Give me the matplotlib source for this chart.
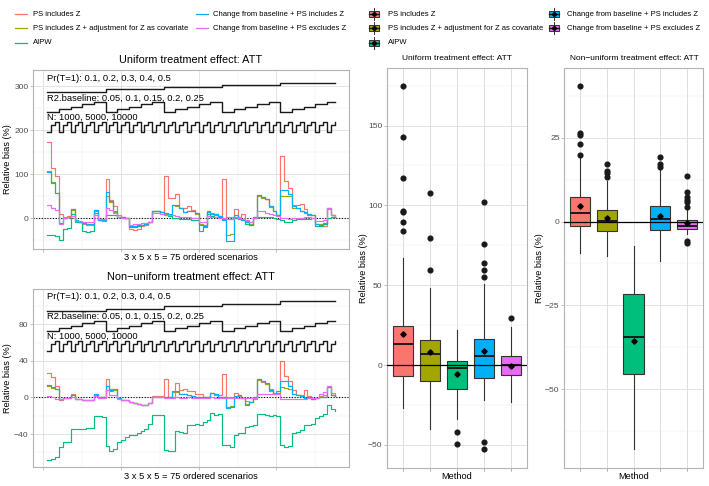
import numpy as np
import matplotlib
matplotlib.use("Agg")
import matplotlib.pyplot as plt
from matplotlib.patches import Rectangle
from matplotlib.lines import Line2D

plt.rcParams['font.family'] = ['Liberation Sans', 'DejaVu Sans']

W, H, DPI = 709, 486, 100

# ---------------- data ----------------
methods = ["PS includes Z", "PS includes Z + adjustment for Z as covariate", "AIPW",
           "Change from baseline + PS includes Z", "Change from baseline + PS excludes Z"]
colors = ["#F8766D", "#A3A500", "#00BF7D", "#00B0F6", "#E76BF3"]

pr_levels = [0.1, 0.2, 0.3, 0.4, 0.5]
r2_levels = [0.05, 0.1, 0.15, 0.2, 0.25]
n_levels = [1000, 5000, 10000]
scenario = np.arange(1, 76)

# Uniform treatment effect (relative bias %, 75 ordered scenarios)
uni_ps_z = [174, 113, 95, 10, 2, 5, 20, -4, -9, -14, -15, -15, 19, -4, -6,
            89, 42, 27, 8, 2, 0, -24, -27, -24, -18, -16, -10, 17, 17, 14,
            97, 45, 45, 55, 22, 24, 27, 19, 11, -14, -15, 17, 11, 9, 4,
            89, 3, 2, 21, 3, 9, -6, -9, 0, 52, 48, 44, 27, 17, 8,
            141, 84, 69, 30, 29, 32, 21, 9, 8, -14, -15, -19, 21, 8, 2]
uni_ps_z_adj = [107, 82, 58, -12, 0, 2, 18, -4, -9, -12, -14, -14, 17, -4, -4,
                50, 36, 14, 2, 2, 0, -17, -17, -15, -15, -13, -9, 17, 17, 14,
                10, 8, 30, 28, 22, 14, 17, 15, 10, -14, -15, 17, 9, 8, 4,
                -2, -38, -36, 6, 0, -3, -8, -13, 2, 50, 46, 43, 25, 16, 6,
                50, 51, 51, 24, 22, 17, 12, 8, 6, -13, -14, -11, 22, 6, 2]
uni_aipw = [-38, -38, -42, -50, -25, -22, 10, -8, -10, -30, -32, -30, 12, -3, -5,
            8, 6, 6, 2, 0, 0, -21, -20, -18, -16, -14, -10, 17, 17, 14,
            8, 5, 0, 0, -2, -3, -3, -5, -5, -29, -20, 10, 5, 3, 2,
            0, -3, -3, 0, -3, -5, -14, -15, 0, 2, 3, 3, 2, 0, -3,
            -5, -10, -8, -5, -3, -3, -2, -1, 0, -17, -17, -14, 0, 2, 2]
uni_cfb_z = [105, 80, 57, -12, 0, 2, 21, -4, -9, -12, -14, -14, 19, -4, -4,
             60, 38, 17, 2, 2, 0, -19, -17, -15, -15, -14, -9, 17, 17, 14,
             11, 10, 30, 30, 24, 14, 17, 17, 11, -15, -17, 14, 9, 9, 4,
             -4, -52, -52, 8, 0, -4, -9, -15, 2, 52, 48, 44, 27, 17, 8,
             65, 63, 55, 27, 23, 17, 14, 9, 8, -14, -15, -12, 24, 8, 2]
uni_cfb_noz = [29, 24, 19, -14, 0, 2, 4, -6, -6, -9, -10, -10, 8, -3, -3,
               23, 19, 11, 2, 0, 0, -15, -14, -13, -12, -11, -8, 11, 11, 9,
               8, 8, 6, 5, 3, 3, 2, 0, 0, -10, -10, 4, 3, 2, 0,
               0, -2, -2, 2, 0, -2, -4, -8, 0, 17, 15, 12, 10, 8, 5,
               0, 0, -2, 0, 0, 0, 2, 2, 0, -6, -6, -5, 24, 8, 5]

# Non-uniform treatment effect
non_ps_z = [27, 22, 13, -3, -1, -1, 4, -2, -2, -3, -3, -3, 4, 0, 0,
            20, 9.5, 9, -1, -3, -3, -5, -6, -7, -8, -8, -6, 1.5, 1.5, 1.5,
            20, 0, 0, 16, 8, 9, 6.5, 6.5, 4, 4, 0, 0, 5, 3, 3,
            26, 0, 1, 5, 2, -1, -4, -5, -2, 20, 17, 15, 9.5, 5, 5,
            40, 23, 18.5, 7.6, 3, 3, 7.6, 1.5, -1.5, -1, 2, 3, 12, 3, 2]
non_ps_z_adj = [13, 10, 9, -2, -1, -1, 3, -2, -2, -3, -3, -3, 3, 0, 0,
                12, 7, 8, -1, -3, -3, -5, -6, -7, -8, -8, -6, 1, 1, 1,
                0, 1, 6, 6, 4, 4, 3, 2, 1, 1, 0, 0, 5, 4, 1,
                0, -10, -9.5, 2, 3, -1, -7, -5, 0, 19, 18, 15, 7, 4, 5,
                11, 10, 9.5, 4, 3, 2, -1, 0, -1.5, -1, 0, 1, 11, 3, 2]
non_aipw = [-68, -67, -65, -54, -49, -49, -35, -35, -34, -34, -33, -33, -20, -20, -21,
            -53, -58, -56, -49, -47, -43, -41.5, -41, -38.5, -37, -35, -29, -19, -19, -19,
            -57, -59, -59, -37, -38, -38.5, -30.5, -30, -29, -30, -27, -25, -17, -19, -18,
            -52, -52, -54, -41, -38.5, -38.5, -32, -31, -30.5, -18, -18, -19, -20, -19, -20,
            -52, -54, -53, -38.5, -38, -36, -30, -30, -29, -23, -20, -18, -8, -13, -15]
non_cfb_z = [14, 11, 9.5, -2, -1, -1, 3, -2, -2, -3, -3, -3, 4, 0, 0,
             13, 7.6, 9.5, -1, -3, -3, -5, -6, -7, -8, -8, -6, 1, 1, 1,
             0, 1, 6.5, 6.5, 4, 4, 3, 2, 1, 1, 0, 0, 5, 4, 1,
             0, -11.6, -10.5, 2, 3, -1, -8, -5, 0, 20, 18.5, 16, 7.6, 4, 6.5,
             18.5, 17.5, 12, 4, 3, 2, -1, 0, -1.5, -1, 0, 1, 11, 3, 2]
non_cfb_noz = [1.5, 0, -1.5, -1.5, -1, -1, 0, -2, -2, -3, -3, -3, 2, -1, -1,
               7.6, 3, 3, -2, -3, -3, -5, -6, -7, -8, -8, -6, 0.5, 0.5, 0.5,
               -1, -1, -1, 0, -1, -1, 0, -1, -1, -1, -1, -1, 0, -1, -1,
               -1, -1, -1, -1, -1, -1, -1, -1, -1, 4, 4, 4, 4, 4, 4,
               -1.5, -1.5, -1.5, -1.5, -1.5, -1.5, -2, -1, -1, -1, 4, 6, 13, 5, 4]

uni_series = [uni_ps_z, uni_ps_z_adj, uni_aipw, uni_cfb_z, uni_cfb_noz]
non_series = [non_ps_z, non_ps_z_adj, non_aipw, non_cfb_z, non_cfb_noz]

# Box plot summaries (q1, median, q3, lower whisker, upper whisker, mean, outliers)
uni_q1 = [-6.9, -10.2, -15.2, -7.9, -6.4]
uni_med = [13.5, 6.7, -2.1, 5.6, 0.0]
uni_q3 = [24.5, 15.8, 2.5, 16.4, 6.0]
uni_lo = [-26.6, -40.0, -33.9, -21.8, -22.9]
uni_hi = [67.0, 48.2, 22.2, 50.9, 24.1]
uni_mean = [19.3, 8.3, -5.6, 8.7, -0.6]
uni_out = [[174.5, 142.5, 117.2, 96.5, 95.6, 89.8, 83.8],
           [107.5, 79.7, 59.3],
           [-42.0, -49.3],
           [102.3, 75.9, 64.0, 59.3, 55.1, -48.4, -52.6],
           [29.3]]

non_q1 = [-1.3, -2.9, -45.4, -2.4, -2.3]
non_med = [2.6, 0.3, -34.3, 0.8, -1.2]
non_q3 = [7.2, 3.4, -21.6, 4.6, 0.4]
non_lo = [-9.4, -10.2, -67.9, -11.9, -3.8]
non_hi = [19.2, 12.0, -7.2, 15.7, 3.4]
non_mean = [4.6, 1.0, -35.5, 1.8, -0.4]
non_out = [[19.9, 23.0, 25.8, 26.4, 40.4],
           [13.4, 14.6, 15.2, 17.2],
           [],
           [16.2, 17.2, 19.2],
           [4.3, 5.8, 6.5, 7.3, 8.8, 13.5, -5.9, -6.4]]

# ---------------- style ----------------
BORDER = "#B3B3B3"
GRID = "#DEDEDE"
GRIDMIN = "#EDEDED"
TICKC = "#4D4D4D"
PT = 72.0 / DPI  # points per pixel

fig = plt.figure(figsize=(W / DPI, H / DPI), dpi=DPI)


def ax_px(l, t, r, b):
    return fig.add_axes([l / W, 1 - b / H, (r - l) / W, (b - t) / H])


def style(ax, xmaj, xmin, ymaj, ymin):
    ax.set_xticks(xmaj)
    ax.set_xticks(xmin, minor=True)
    ax.set_yticks(ymaj)
    ax.set_yticks(ymin, minor=True)
    ax.set_xticklabels([])
    ax.grid(True, which='major', color=GRID, lw=0.6, zorder=0)
    ax.grid(True, which='minor', color=GRIDMIN, lw=0.35, zorder=0)
    ax.set_axisbelow(True)
    for s in ax.spines.values():
        s.set_color(BORDER)
        s.set_linewidth(0.8)
    ax.tick_params(which='major', length=2.6 * PT, width=0.6, color=BORDER,
                   labelsize=6.1, labelcolor=TICKC, pad=1.3)
    ax.tick_params(which='minor', length=0)


def scaled(vals, levels, base, height, log=False):
    v = np.asarray(vals, dtype=float)
    lo, hi = min(levels), max(levels)
    if log:
        return base + height * (np.log(v) - np.log(lo)) / (np.log(hi) - np.log(lo))
    return base + height * (v - lo) / (hi - lo)


pr_col = np.repeat(pr_levels, 15)
r2_col = np.tile(np.repeat(r2_levels, 3), 5)
n_col = np.tile(n_levels, 25)

pr_txt = "Pr(T=1): " + ", ".join(str(v) for v in pr_levels)
r2_txt = "R2.baseline: " + ", ".join(str(v) for v in r2_levels)
n_txt = "N: " + ", ".join(str(v) for v in n_levels)


def line_panel(ax, series, ylim, ymaj, ymin, ind):
    ax.set_xlim(-2.7, 78.7)
    ax.set_ylim(*ylim)
    style(ax, [0, 20, 40, 60], [10, 30, 50, 70], ymaj, ymin)
    (pb, ph, pt_), (rb, rh, rt), (nb, nh, nt) = ind
    kw = dict(drawstyle='steps-post', color='#1a1a1a', lw=1.0, zorder=3)
    ax.plot(scenario, scaled(pr_col, pr_levels, pb, ph), **kw)
    ax.plot(scenario, scaled(r2_col, r2_levels, rb, rh), **kw)
    ax.plot(scenario, scaled(n_col, n_levels, nb, nh, log=True), **kw)
    tkw = dict(ha='left', va='center', fontsize=6.75, color='black', zorder=4)
    ax.text(1, pt_, pr_txt, **tkw)
    ax.text(1, rt, r2_txt, **tkw)
    ax.text(1, nt, n_txt, **tkw)
    ax.axhline(0, color='black', lw=0.8, ls=(0, (1, 1.5)), zorder=2)
    for vals, c in zip(series, colors):
        ax.plot(scenario, vals, drawstyle='steps-post', color=c, lw=0.85, zorder=3)


def box_panel(ax, q1, med, q3, lo, hi, mean, out, ylim, ymaj, ymin):
    ax.set_xlim(0.4, 5.6)
    ax.set_ylim(*ylim)
    style(ax, [1, 2, 3, 4, 5], [], ymaj, ymin)
    stats = []
    for i in range(5):
        stats.append(dict(q1=q1[i], med=med[i], q3=q3[i], whislo=lo[i], whishi=hi[i],
                          mean=mean[i], fliers=out[i]))
    res = ax.bxp(stats, positions=[1, 2, 3, 4, 5], widths=0.75, patch_artist=True,
                 showcaps=False, showmeans=False,
                 boxprops=dict(edgecolor='#333333', linewidth=0.8),
                 whiskerprops=dict(color='#333333', linewidth=0.8),
                 medianprops=dict(color='#1a1a1a', linewidth=1.4),
                 flierprops=dict(marker='o', markersize=3.4, markerfacecolor='#1a1a1a',
                                 markeredgecolor='#1a1a1a', linestyle='none'),
                 zorder=2)
    for b, c in zip(res['boxes'], colors):
        b.set_facecolor(c)
    ax.axhline(0, color='black', lw=0.9, zorder=4)
    ax.plot([1, 2, 3, 4, 5], mean, ls='none', marker='D', markersize=2.7,
            color='black', zorder=5)
    ax.set_xticklabels([])


# ---------- left line panels ----------
axA = ax_px(33, 70, 349, 249)
line_panel(axA, uni_series, (-70.5, 337.5), [0, 100, 200, 300], [-50, 50, 150, 250],
           [(288, 21, 319), (242, 23, 274), (197, 21, 229)])
axB = ax_px(33, 289, 349, 467)
line_panel(axB, non_series, (-76, 118.5), [-40, 0, 40, 80], [-60, -20, 20, 60, 100],
           [(94.5, 10.5, 110.5), (73, 11, 89), (51, 11, 67)])

# ---------- box panels ----------
axC = ax_px(387, 68, 527, 468)
box_panel(axC, uni_q1, uni_med, uni_q3, uni_lo, uni_hi, uni_mean, uni_out,
          (-64.4, 186.0), [-50, 0, 50, 100, 150], [-25, 25, 75, 125, 175])
axD = ax_px(564, 68, 703, 468)
box_panel(axD, non_q1, non_med, non_q3, non_lo, non_hi, non_mean, non_out,
          (-73.5, 45.8), [-50, -25, 0, 25], [-62.5, -37.5, -12.5, 12.5, 37.5])

# ---------- overlay for titles / labels / legends ----------
ov = fig.add_axes([0, 0, 1, 1])
ov.set_xlim(0, W)
ov.set_ylim(H, 0)
ov.axis('off')
ov.patch.set_alpha(0)

ov.text(191, 60, "Uniform treatment effect: ATT", ha='center', va='center', fontsize=7.85)
ov.text(191, 277, "Non\u2212uniform treatment effect: ATT", ha='center', va='center', fontsize=7.85)
ov.text(191, 257, "3 x 5 x 5 = 75 ordered scenarios", ha='center', va='center', fontsize=6.75)
ov.text(191, 476, "3 x 5 x 5 = 75 ordered scenarios", ha='center', va='center', fontsize=6.75)
ov.text(8, 159.5, "Relative bias (%)", ha='center', va='center', rotation=90, fontsize=6.6)
ov.text(8, 378, "Relative bias (%)", ha='center', va='center', rotation=90, fontsize=6.6)

ov.text(457, 58, "Uniform treatment effect: ATT", ha='center', va='center', fontsize=6.05)
ov.text(634, 58, "Non\u2212uniform treatment effect: ATT", ha='center', va='center', fontsize=6.05)
ov.text(457, 476, "Method", ha='center', va='center', fontsize=6.7)
ov.text(634, 476, "Method", ha='center', va='center', fontsize=6.7)
ov.text(364, 268, "Relative bias (%)", ha='center', va='center', rotation=90, fontsize=6.6)
ov.text(540, 268, "Relative bias (%)", ha='center', va='center', rotation=90, fontsize=6.6)

rows = [14, 28.5, 43]
slots = [(0, 0), (0, 1), (0, 2), (1, 0), (1, 1)]
# line legend
lx = [(15, 27, 33), (196, 208, 213)]
for (col, row), name, c in zip(slots, methods, colors):
    x0, x1, tx = lx[col]
    y = rows[row]
    ov.add_line(Line2D([x0, x1], [y, y], color=c, lw=0.9))
    ov.text(tx, y, name, ha='left', va='center', fontsize=5.5)
# box legend
bx = [(369, 379, 388), (549, 559, 567)]
for (col, row), name, c in zip(slots, methods, colors):
    x0, x1, tx = bx[col]
    y = rows[row]
    xc = (x0 + x1) / 2
    ov.add_line(Line2D([xc, xc], [y - 6, y + 6], color='#333333', lw=0.7))
    ov.add_patch(Rectangle((x0, y - 3), x1 - x0, 6, facecolor=c, edgecolor='#333333', lw=0.7))
    ov.add_line(Line2D([x0, x1], [y, y], color='#1a1a1a', lw=1.0))
    ov.plot([xc], [y], marker='D', markersize=2.2, color='black')
    ov.text(tx, y, name, ha='left', va='center', fontsize=5.5)

fig.savefig("out.png", dpi=DPI)
